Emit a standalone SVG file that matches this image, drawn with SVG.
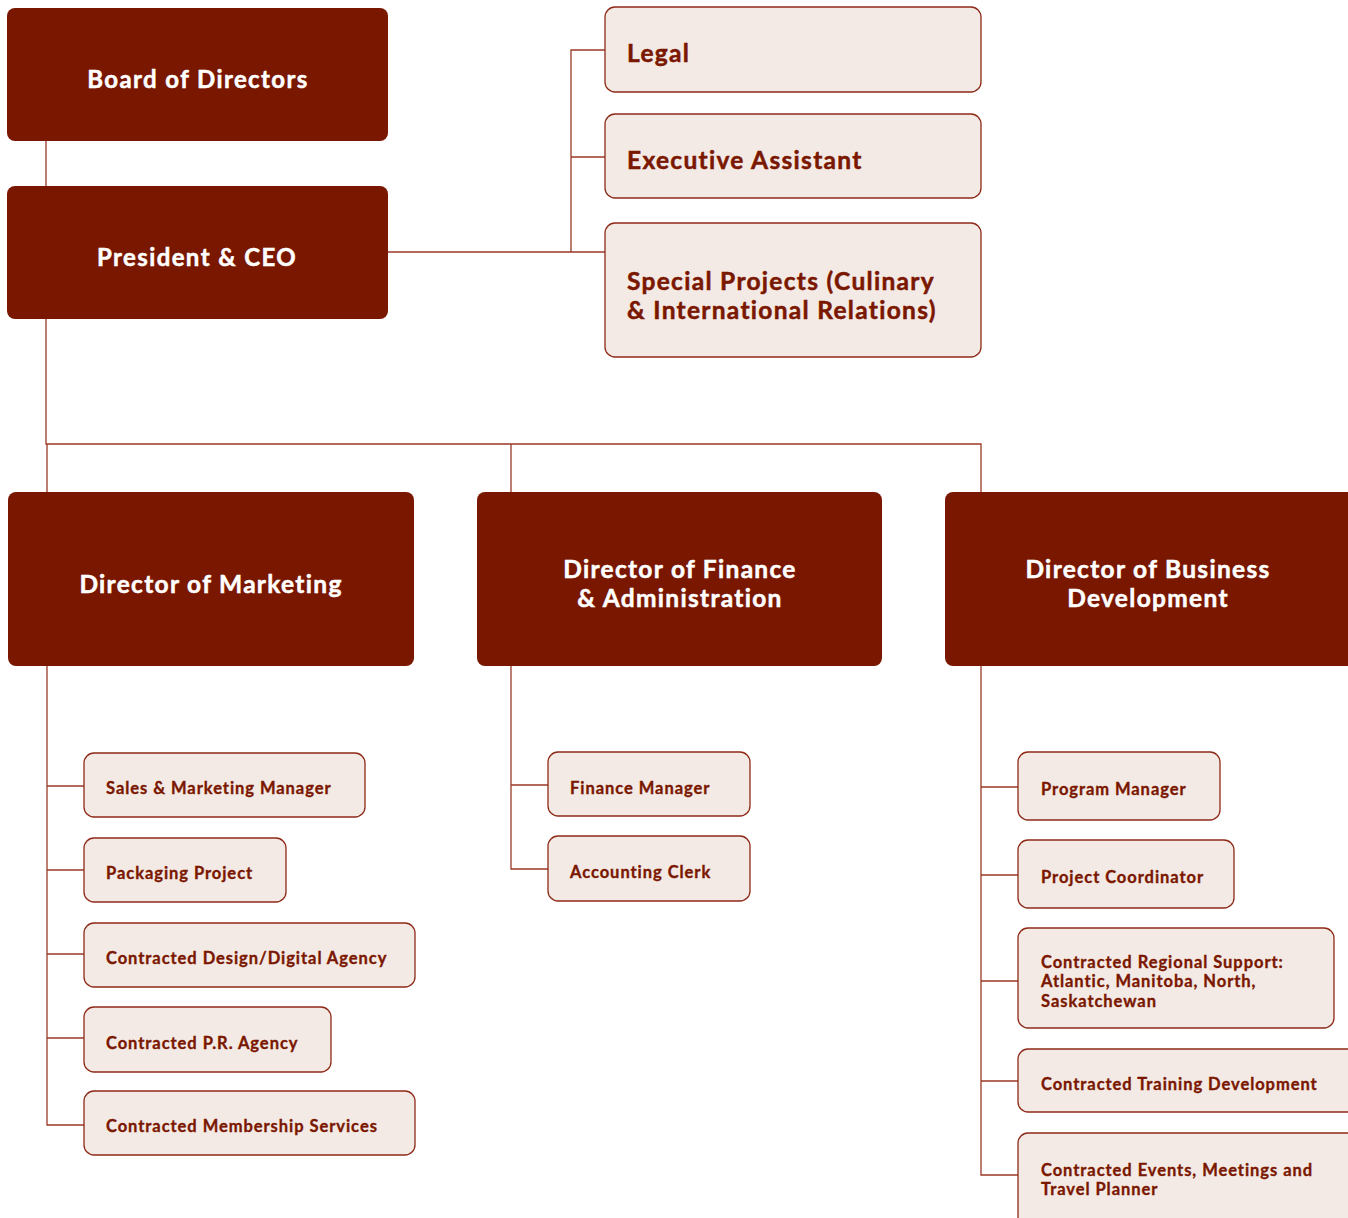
<svg xmlns="http://www.w3.org/2000/svg" width="1348" height="1218" viewBox="0 0 1348 1218">
<style>
.dark{fill:#7A1700;}
.light{fill:#F4EAE5;stroke:#8E2A18;stroke-width:1.3;}
.wt{fill:#FFFFFF;stroke:#FFFFFF;stroke-width:0.5px;font-family:Lato,"Noto Sans",sans-serif;font-weight:700;font-size:24.5px;letter-spacing:1.3px;}
.wt2{fill:#FFFFFF;stroke:#FFFFFF;stroke-width:0.5px;font-family:Lato,"Noto Sans",sans-serif;font-weight:700;font-size:24px;letter-spacing:1.4px;}
.bt{fill:#7A1700;stroke:#7A1700;stroke-width:0.5px;font-family:Lato,"Noto Sans",sans-serif;font-weight:700;font-size:24.5px;letter-spacing:1.3px;}
.st{fill:#7A1700;stroke:#7A1700;stroke-width:0.35px;font-family:Lato,"Noto Sans",sans-serif;font-weight:700;font-size:16.5px;letter-spacing:0.95px;}
.c{fill:none;stroke:#9A3A28;stroke-width:1.3;}
</style>
<rect width="1348" height="1218" fill="#FFFFFF"/>
<g id="connectors">
<path class="c" d="M46 141V186M46 319V444H981V492M47 444V492M511 444V492"/>
<path class="c" d="M388 252H605M571 252V50H605M571 157H605"/>
<path class="c" d="M47 666V1125H84M47 786H84M47 870H84M47 954H84M47 1038H84"/>
<path class="c" d="M511 666V869H548M511 785H548"/>
<path class="c" d="M981 666V1175H1018M981 787H1018M981 875H1018M981 981H1018M981 1081H1018"/>
</g>
<g id="board"><rect class="dark" x="7" y="8" width="381" height="133" rx="8"/><text class="wt2" x="198" y="88" text-anchor="middle">Board of Directors</text></g>
<g id="ceo"><rect class="dark" x="7" y="186" width="381" height="133" rx="8"/><text class="wt2" x="197" y="266" text-anchor="middle">President &amp; CEO</text></g>
<g id="legal"><rect class="light" x="605" y="7" width="376" height="85" rx="10"/><text class="bt" x="627" y="62">Legal</text></g>
<g id="exec"><rect class="light" x="605" y="114" width="376" height="84" rx="10"/><text class="bt" x="627" y="169">Executive Assistant</text></g>
<g id="special"><rect class="light" x="605" y="223" width="376" height="134" rx="10"/><text class="bt" x="627" y="290">Special Projects (Culinary</text><text class="bt" x="627" y="319">&amp; International Relations)</text></g>
<g id="dir-marketing"><rect class="dark" x="8" y="492" width="406" height="174" rx="8"/><text class="wt" x="211" y="593" text-anchor="middle">Director of Marketing</text></g>
<g id="dir-finance"><rect class="dark" x="477" y="492" width="405" height="174" rx="8"/><text class="wt" x="680" y="578" text-anchor="middle">Director of Finance</text><text class="wt" x="680" y="607" text-anchor="middle">&amp; Administration</text></g>
<g id="dir-bizdev"><rect class="dark" x="945" y="492" width="412" height="174" rx="8"/><text class="wt" x="1148" y="578" text-anchor="middle">Director of Business</text><text class="wt" x="1148" y="607" text-anchor="middle">Development</text></g>
<g id="sales"><rect class="light" x="84" y="753" width="281" height="64" rx="10"/><text class="st" x="106" y="794">Sales &amp; Marketing Manager</text></g>
<g id="packaging"><rect class="light" x="84" y="838" width="202" height="64" rx="10"/><text class="st" x="106" y="879">Packaging Project</text></g>
<g id="design"><rect class="light" x="84" y="923" width="331" height="64" rx="10"/><text class="st" x="106" y="964">Contracted Design/Digital Agency</text></g>
<g id="pr"><rect class="light" x="84" y="1007" width="247" height="65" rx="10"/><text class="st" x="106" y="1049">Contracted P.R. Agency</text></g>
<g id="membership"><rect class="light" x="84" y="1091" width="331" height="64" rx="10"/><text class="st" x="106" y="1132">Contracted Membership Services</text></g>
<g id="finmgr"><rect class="light" x="548" y="752" width="202" height="64" rx="10"/><text class="st" x="570" y="794">Finance Manager</text></g>
<g id="acct"><rect class="light" x="548" y="836" width="202" height="65" rx="10"/><text class="st" x="570" y="878">Accounting Clerk</text></g>
<g id="progmgr"><rect class="light" x="1018" y="752" width="202" height="68" rx="10"/><text class="st" x="1041" y="795">Program Manager</text></g>
<g id="projcoord"><rect class="light" x="1018" y="840" width="216" height="68" rx="10"/><text class="st" x="1041" y="883">Project Coordinator</text></g>
<g id="regional"><rect class="light" x="1018" y="928" width="316" height="100" rx="10"/><text class="st" x="1041" y="968">Contracted Regional Support:</text><text class="st" x="1041" y="987">Atlantic, Manitoba, North,</text><text class="st" x="1041" y="1007">Saskatchewan</text></g>
<g id="training"><rect class="light" x="1018" y="1049" width="340" height="63" rx="10"/><text class="st" x="1041" y="1090">Contracted Training Development</text></g>
<g id="events"><rect class="light" x="1018" y="1133" width="340" height="95" rx="10"/><text class="st" x="1041" y="1176">Contracted Events, Meetings and</text><text class="st" x="1041" y="1195">Travel Planner</text></g>
</svg>
